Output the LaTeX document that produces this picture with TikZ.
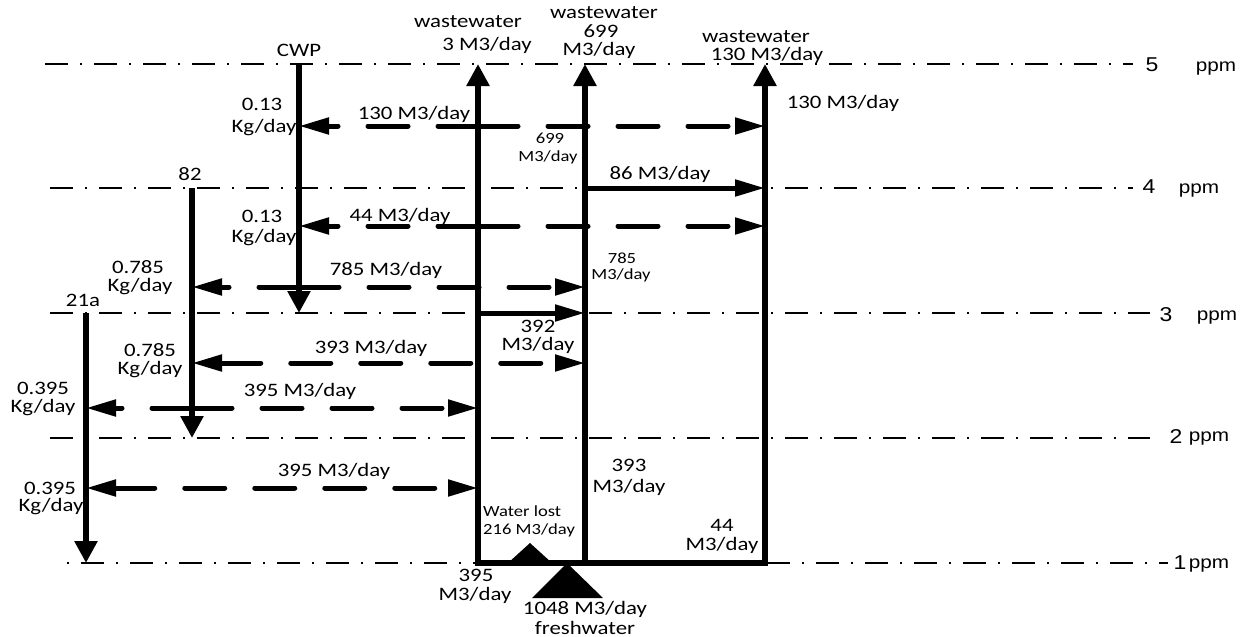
\documentclass[tikz,border=0pt]{standalone}
\usepackage{fontspec}
\setmainfont{Carlito}[FakeStretch=1.2]
\newfontfamily\ppmfont{Liberation Sans}[FakeStretch=1.15]
\usetikzlibrary{arrows.meta}
\begin{document}
\begin{tikzpicture}[x=1pt,y=-1pt,
  lvl/.style={line width=2.6pt, dash pattern=on 23pt off 12pt on 2pt off 12pt},
  vline/.style={line width=5.5pt},
  uparrow/.style={line width=5.5pt,-{Triangle[length=22pt,width=22pt]}},
  harrow/.style={line width=5pt,-{Triangle[length=30pt,width=16pt]}},
  darrow/.style={line width=5pt,line cap=round,dash pattern=on 40pt off 30pt,
     {Triangle[length=30pt,width=16pt]}-{Triangle[length=30pt,width=16pt]}},
  dsingle/.style={line width=5pt,line cap=round,dash pattern=on 40pt off 30pt,
     -{Triangle[length=30pt,width=16pt]}},
  lab/.style={font=\fontsize{19}{20}\selectfont, inner sep=0pt, align=center},
  slab/.style={font=\fontsize{15.5}{18}\selectfont, inner sep=0pt, align=center},
  ppmnum/.style={font=\ppmfont\fontsize{20}{22}\selectfont, inner sep=0pt, anchor=base},
  ppmtxt/.style={font=\ppmfont\fontsize{18}{20}\selectfont, inner sep=0pt, anchor=base},
  tri/.style={fill=black, draw=none}
]
\useasboundingbox (0,0) rectangle (1245,637);

% concentration levels
\coordinate (l5s) at (45,64);   \coordinate (l5e) at (1133,64);
\coordinate (l4s) at (50,188);  \coordinate (l4e) at (1133,188);
\coordinate (l3s) at (50,313);  \coordinate (l3e) at (1150,313);
\coordinate (l2s) at (50,438);  \coordinate (l2e) at (1150,438);
\coordinate (l1s) at (67,563);  \coordinate (l1e) at (1168,563);
\draw[lvl] (l5s) -- (l5e);
\draw[lvl] (l4s) -- (l4e);
\draw[lvl] (l3s) -- (l3e);
\draw[lvl] (l2s) -- (l2e);
\draw[lvl, dash phase=35pt] (l1s) -- (l1e);

\node[ppmnum] (n5) at (1152,71) {5};  \node[ppmtxt] (p5) at (1216,71) {ppm};
\node[ppmnum] (n4) at (1149,193) {4}; \node[ppmtxt] (p4) at (1199,193) {ppm};
\node[ppmnum] (n3) at (1166,321) {3}; \node[ppmtxt] (p3) at (1217,320) {ppm};
\node[ppmnum] (n2) at (1176,443) {2}; \node[ppmtxt] (p2) at (1209,441) {ppm};
\node[ppmnum] (n1) at (1180,569) {1}; \node[ppmtxt] (p1) at (1209,568) {ppm};

% key coordinates
\coordinate (cwpT) at (299,64);  \coordinate (cwpB) at (299,313);
\coordinate (s82T) at (192,188); \coordinate (s82B) at (192,438);
\coordinate (s21T) at (86,313);  \coordinate (s21B) at (86,563);
\coordinate (aT) at (478,64);  \coordinate (aB) at (478,563);
\coordinate (bT) at (585,64);  \coordinate (bB) at (585,563);
\coordinate (cT) at (765,64);  \coordinate (cB) at (765,563);

% sinks
\draw[uparrow] (cwpT) -- (cwpB);
\draw[uparrow] (s82T) -- (s82B);
\draw[uparrow] (s21T) -- (s21B);

% sources / main columns
\draw[vline, line cap=rect] (aB) -- (cB);
\draw[uparrow] (aB) -- (aT);
\draw[uparrow] (bB) -- (bT);
\draw[uparrow] (cB) -- (cT);

% horizontal flows
\coordinate (cwp126) at (299,126); \coordinate (a126) at (478,126); \coordinate (c126) at (765,126);
\draw[dsingle] (a126) -- (cwp126);
\draw[dsingle] (a126) -- (c126);

\coordinate (b188) at (585,188); \coordinate (c188) at (765,188);
\draw[harrow] (b188) -- (c188);

\coordinate (cwp226) at (299,226); \coordinate (a226) at (478,226); \coordinate (c226) at (765,226);
\draw[dsingle] (a226) -- (cwp226);
\draw[dsingle] (a226) -- (c226);

\coordinate (s82a) at (192,287); \coordinate (cwp287) at (299,287); \coordinate (b287) at (585,287);
\draw[dsingle] (cwp287) -- (s82a);
\draw[dsingle] (cwp287) -- (b287);

\coordinate (a313) at (478,313); \coordinate (b313) at (585,313);
\draw[harrow] (a313) -- (b313);

\coordinate (s82b) at (192,363); \coordinate (b363) at (585,363);
\draw[darrow] (s82b) -- (b363);

\coordinate (s21a) at (86,408); \coordinate (s82c) at (192,408); \coordinate (a408) at (478,408);
\draw[dsingle] (s82c) -- (s21a);
\draw[dsingle] (s82c) -- (a408);

\coordinate (s21b) at (86,488); \coordinate (a488) at (478,488);
\draw[darrow] (s21b) -- (a488);

% triangles
\coordinate (lostApex) at (530,543);
\path[tri] (lostApex) -- (508,563) -- (552,563) -- cycle;
\coordinate (freshApex) at (567,563);
\path[tri] (freshApex) -- (532,598) -- (603,598) -- cycle;

% labels
\node[lab] at (299,50) {CWP};
\node[lab] at (468,22) {wastewater};
\node[lab] at (487,45) {3 M3/day};
\node[lab] at (604,13) {wastewater};
\node[lab] at (601,31) {699};
\node[lab] at (599,50) {M3/day};
\node[lab] at (756,37) {wastewater};
\node[lab] at (767,55) {130 M3/day};

\node[lab] at (262,104) {0.13};
\node[lab] at (264,128) {Kg/day};
\node[lab] at (414,114) {130 M3/day};
\node[slab] at (550,138) {699};
\node[slab] at (548,157) {M3/day};
\node[lab] at (843,103) {130 M3/day};

\node[lab] at (190,174) {82};
\node[lab] at (660,174) {86 M3/day};
\node[lab] at (262,216) {0.13};
\node[lab] at (264,238) {Kg/day};
\node[lab] at (400,216) {44 M3/day};

\node[lab] at (138,267) {0.785};
\node[lab] at (140,287) {Kg/day};
\node[lab] at (386,270) {785 M3/day};
\node[slab] at (622,258) {785};
\node[slab] at (621,275) {M3/day};
\node[lab] at (83,300) {21a};

\node[lab] at (538,326) {392};
\node[lab] at (538,345) {M3/day};
\node[lab] at (150,350) {0.785};
\node[lab] at (150,370) {Kg/day};
\node[lab] at (371,348) {393 M3/day};

\node[lab] at (43,388) {0.395};
\node[lab] at (43,408) {Kg/day};
\node[lab] at (300,391) {395 M3/day};

\node[lab] at (334,471) {395 M3/day};
\node[lab] at (50,488) {0.395};
\node[lab] at (51,507) {Kg/day};
\node[lab] at (629,465) {393};
\node[lab] at (629,487) {M3/day};

\node[slab, anchor=west] at (483,511) {Water lost};
\node[slab, anchor=west] at (483,530) {216 M3/day};
\node[lab] at (722,525) {44};
\node[lab] at (722,545) {M3/day};

\node[lab] at (476,575) {395};
\node[lab] at (475,595) {M3/day};
\node[lab] at (585,609) {1048 M3/day};
\node[lab] at (585,628) {freshwater};
\end{tikzpicture}
\end{document}
